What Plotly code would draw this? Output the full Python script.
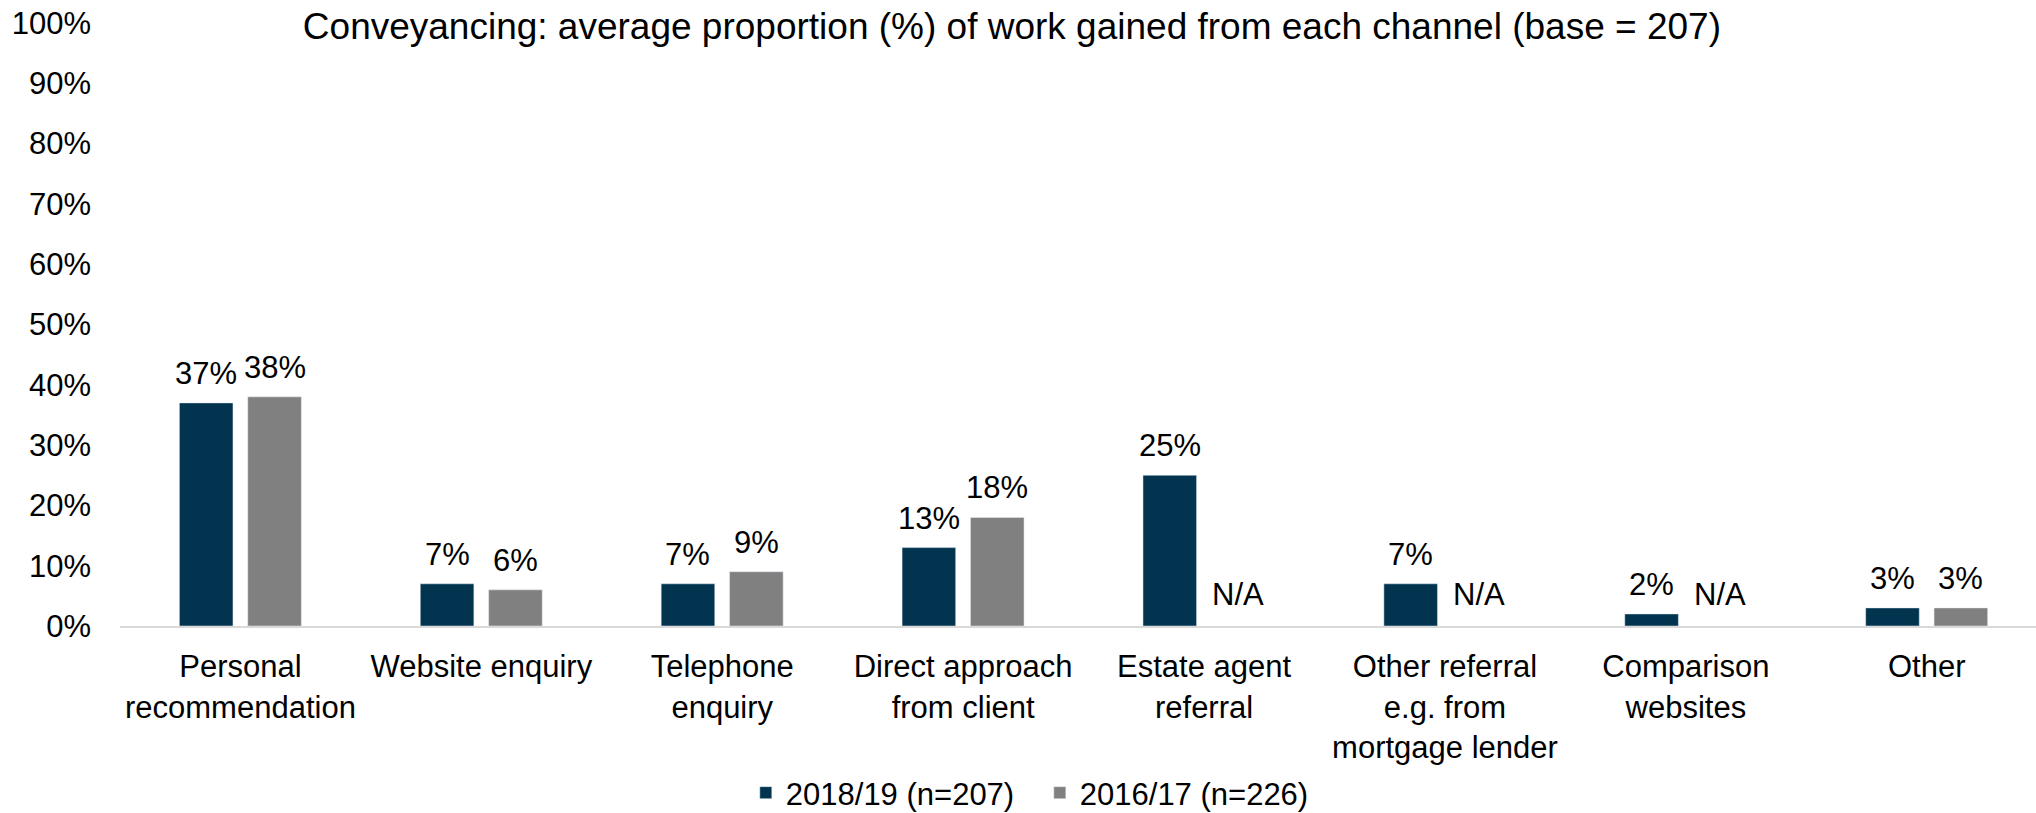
import plotly.graph_objects as go

# Channels and average proportions (%) of conveyancing work
categories = [
    "Personal<br>recommendation",
    "Website enquiry",
    "Telephone<br>enquiry",
    "Direct approach<br>from client",
    "Estate agent<br>referral",
    "Other referral<br>e.g. from<br>mortgage lender",
    "Comparison<br>websites",
    "Other",
]
series_2018 = [37, 7, 7, 13, 25, 7, 2, 3]
series_2016 = [38, 6, 9, 18, None, None, None, 3]   # None = not asked in 2016/17
name_2018 = "2018/19 (n=207)"
name_2016 = "2016/17 (n=226)"
y_ticks = [0, 10, 20, 30, 40, 50, 60, 70, 80, 90, 100]

NAVY = "#02344F"
GREY = "#808080"
FONT = "Liberation Sans, Arial, sans-serif"
FS = 31

BAR_W = 0.2225
OFF_A = -0.2535
OFF_B = 0.0303

x = list(range(len(categories)))

fig = go.Figure()
fig.add_trace(go.Bar(x=x, y=series_2018, name=name_2018, marker_color=NAVY,
                     width=BAR_W, offset=OFF_A))
fig.add_trace(go.Bar(x=x, y=series_2016, name=name_2016, marker_color=GREY,
                     width=BAR_W, offset=OFF_B))

# value labels above each bar, "N/A" where there is no 2016/17 figure
annotations = []
for i in x:
    for vals, off in ((series_2018, OFF_A), (series_2016, OFF_B)):
        v = vals[i]
        cx = i + off + BAR_W / 2
        if v is None:
            annotations.append(dict(x=cx, y=0, xref="x", yref="y", text="N/A",
                                    showarrow=False, yanchor="bottom", yshift=12,
                                    font=dict(family=FONT, size=FS, color="black")))
        else:
            annotations.append(dict(x=cx, y=v, xref="x", yref="y", text=f"{v}%",
                                    showarrow=False, yanchor="bottom", yshift=10,
                                    font=dict(family=FONT, size=FS, color="black")))

fig.update_layout(
    width=2036, height=813,
    margin=dict(l=120, r=0, t=23, b=187),
    paper_bgcolor="white", plot_bgcolor="white",
    barmode="overlay",
    font=dict(family=FONT, size=FS, color="black"),
    title=dict(text="Conveyancing: average proportion (%) of work gained from each channel (base = 207)",
               x=0.497, xanchor="center", y=1 - 26 / 813, yanchor="middle",
               font=dict(family=FONT, size=37, color="black")),
    xaxis=dict(range=[-0.5, -0.5 + 1916 / 240.9], tickmode="array", tickvals=x,
               ticktext=categories, showline=True, linecolor="#D9D9D9", linewidth=2,
               showgrid=False, zeroline=False, ticks="", tickangle=0,
               ticklabelstandoff=12,
               tickfont=dict(family=FONT, size=FS, color="black")),
    yaxis=dict(range=[0, 100], tickmode="array", tickvals=y_ticks,
               ticktext=[f"{t}%" for t in y_ticks], showgrid=False, zeroline=False,
               showline=False, ticks="", ticklabelstandoff=28,
               tickfont=dict(family=FONT, size=FS, color="black")),
    legend=dict(orientation="h", x=665 / 2036, xanchor="left",
                yref="container", y=1 - 793 / 813, yanchor="middle",
                entrywidth=249, entrywidthmode="pixels",
                font=dict(family=FONT, size=FS, color="black")),
    annotations=annotations,
    showlegend=True,
)

fig.write_html("out.html")
